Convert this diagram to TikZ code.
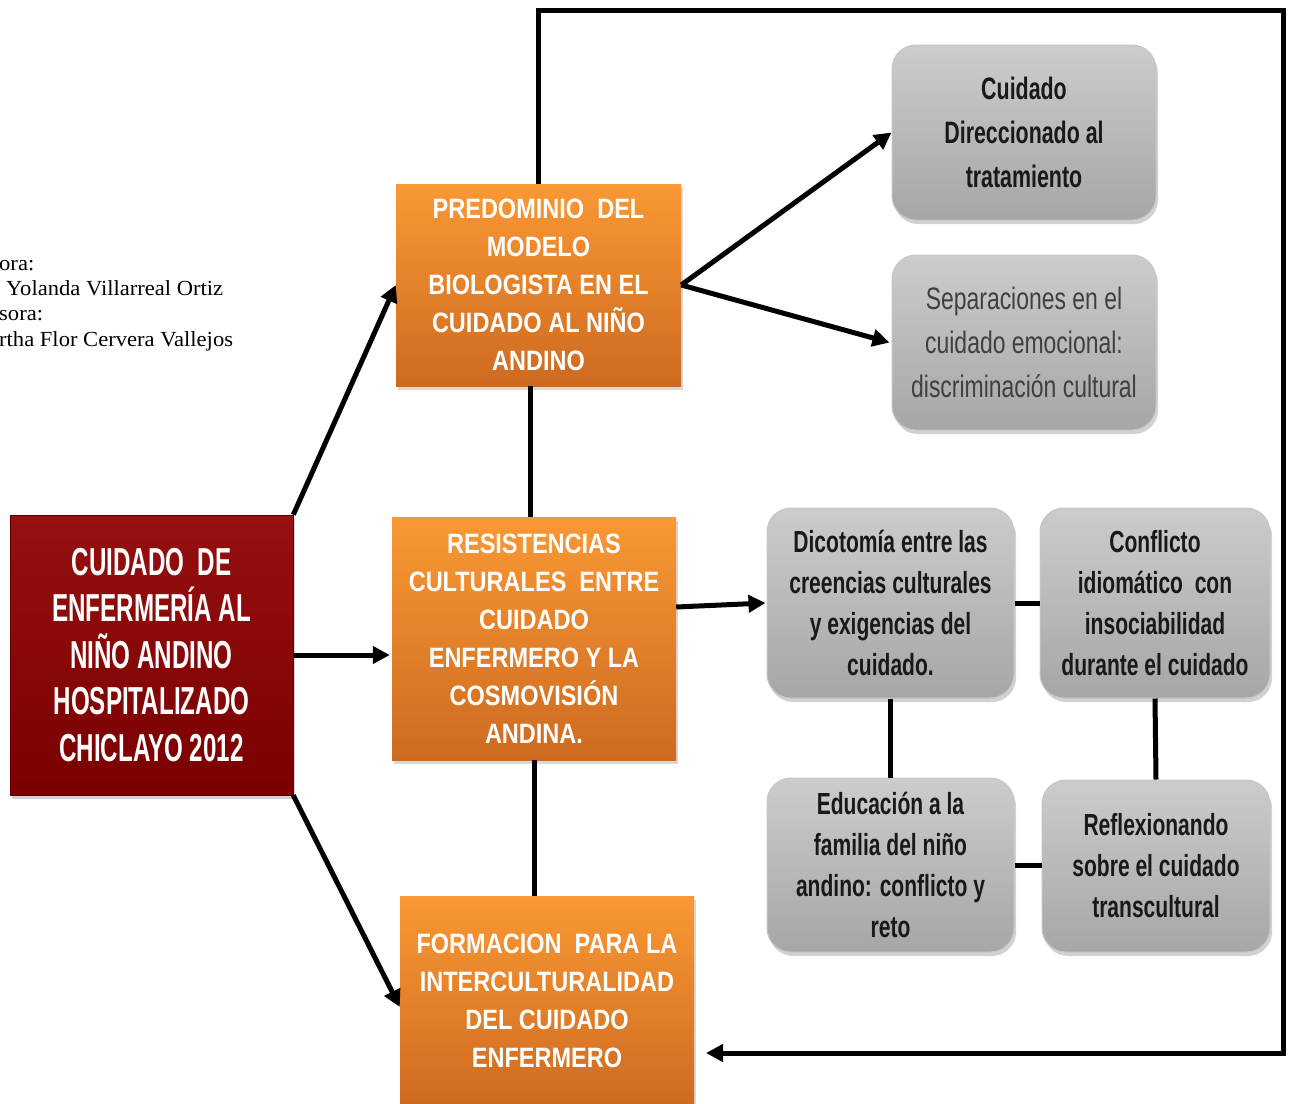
\documentclass[tikz,border=0pt]{standalone}
\usepackage{fontspec}
\setmainfont{Liberation Serif}
\newfontfamily\titlefont[FakeStretch=0.62]{Liberation Sans}
\newfontfamily\capsfont[FakeStretch=0.84]{Liberation Sans}
\newfontfamily\narrowfont[FakeStretch=0.69]{Liberation Sans}
\newfontfamily\thinfont[FakeStretch=0.74]{Liberation Sans}
\newfontfamily\creditfont[FakeStretch=1.05]{Liberation Serif}
\usetikzlibrary{arrows.meta,shadows}
\definecolor{redtop}{RGB}{150,16,16}
\definecolor{redbot}{RGB}{122,0,0}
\definecolor{orangetop}{RGB}{250,152,52}
\definecolor{orangebot}{RGB}{206,106,32}
\definecolor{graytop}{RGB}{204,204,204}
\definecolor{graybot}{RGB}{166,166,166}
\definecolor{softtext}{RGB}{64,64,64}
\begin{document}
\begin{tikzpicture}[x=1pt,y=-1pt,
	redbox/.style={inner sep=0pt,minimum width=283pt,minimum height=280pt,top color=redtop,bottom color=redbot,
		draw=redbot!80!black,line width=0.6pt,drop shadow={opacity=0.35,shadow xshift=2pt,shadow yshift=-4pt},
		text=white,align=center,font=\titlefont\bfseries\fontsize{39}{46.5}\selectfont},
	orangebox/.style={inner sep=0pt,top color=orangetop,bottom color=orangebot,
		drop shadow={opacity=0.3,shadow xshift=2pt,shadow yshift=-4pt},
		text=white,align=center,font=\capsfont\bfseries\fontsize{28}{38}\selectfont},
	graybox/.style={inner sep=0pt,rounded corners=24pt,top color=graytop,bottom color=graybot,
		draw=gray!45,line width=1pt,drop shadow={opacity=0.35,shadow xshift=2pt,shadow yshift=-4pt},
		text=black!90,align=center,font=\narrowfont\bfseries\fontsize{30.5}{41}\selectfont},
	link/.style={line width=5pt},
	arrow/.style={line width=5pt,-{Triangle[length=17pt,width=17pt]}},
	credit/.style={anchor=base west,inner sep=0pt,font=\creditfont\fontsize{21.5}{25}\selectfont}]
	\useasboundingbox (0,0) rectangle (1290,1103);
	\fill[white] (0,0) rectangle (1290,1103);

	\node[credit] (cr1) at (-1,270) {ora:};
	\node[credit] (cr2) at (6,295) {Yolanda Villarreal Ortiz};
	\node[credit] (cr3) at (-1,320) {sora:};
	\node[credit] (cr4) at (-1,346) {rtha Flor Cervera Vallejos};

	\node[redbox] (main) at (151.5,655) {CUIDADO\ \ DE\\ENFERMERÍA AL\\NIÑO ANDINO\\HOSPITALIZADO\\CHICLAYO 2012};

	\node[orangebox,minimum width=285pt,minimum height=202pt] (bio) at (538.5,285) {PREDOMINIO\ \ DEL\\MODELO\\BIOLOGISTA EN EL\\CUIDADO AL NIÑO\\ANDINO};
	\node[orangebox,minimum width=284pt,minimum height=243pt] (res) at (534,638.5) {RESISTENCIAS\\CULTURALES\ \ ENTRE\\CUIDADO\\ENFERMERO Y LA\\COSMOVISIÓN\\ANDINA.};
	\node[orangebox,minimum width=294pt,minimum height=210pt] (form) at (547,1001) {FORMACION\ \ PARA LA\\INTERCULTURALIDAD\\DEL CUIDADO\\ENFERMERO};

	\node[graybox,minimum width=264pt,minimum height=175pt,font=\narrowfont\bfseries\fontsize{31}{44}\selectfont] (trat) at (1024,132.5) {Cuidado\\Direccionado al\\tratamiento};
	\node[graybox,minimum width=264pt,minimum height=175pt,text=softtext,font=\thinfont\fontsize{31}{44}\selectfont] (sep) at (1024,342.5) {Separaciones en el\\cuidado emocional:\\discriminación cultural};
	\node[graybox,minimum width=247pt,minimum height=190pt] (dico) at (890.5,603) {Dicotomía entre las\\creencias culturales\\y exigencias del\\cuidado.};
	\node[graybox,minimum width=230pt,minimum height=190pt] (conf) at (1155,603) {Conflicto\\idiomático\ \ con\\insociabilidad\\durante el cuidado};
	\node[graybox,minimum width=247pt,minimum height=174pt] (edu) at (890.5,865) {Educación a la\\familia del niño\\andino: conflicto y\\reto};
	\node[graybox,minimum width=228pt,minimum height=172pt] (refl) at (1156,866) {Reflexionando\\sobre el cuidado\\transcultural};

	\coordinate (corner) at (1283,10);
	\coordinate (back) at (706,1053);

	\draw[arrow] (main.north east) -- (bio.west);
	\draw[arrow] (main.east) -- ([xshift=-2pt]main.east -| res.west);
	\draw[arrow] (main.south east) -- ([yshift=-6pt]form.west);
	\draw[arrow] (bio.east) -- (trat.west);
	\draw[arrow] (bio.east) -- ([xshift=-2pt]sep.west);
	\draw[arrow] ([yshift=-4pt]res.east |- dico.west) -- ([xshift=-1pt]dico.west);
	\draw[link] ([xshift=-4pt]res.north) -- ([xshift=-4pt]res.north |- bio.south);
	\draw[link] (res.south) -- (res.south |- form.north);
	\draw[link] (dico.east) -- (conf.west);
	\draw[link] (dico.south) -- (dico.south |- edu.north);
	\draw[link] (conf.south) -- (refl.north);
	\draw[link] (edu.east) -- (edu.east -| refl.west);
	\draw[arrow] (bio.north) |- (corner) |- (back);
\end{tikzpicture}
\end{document}
